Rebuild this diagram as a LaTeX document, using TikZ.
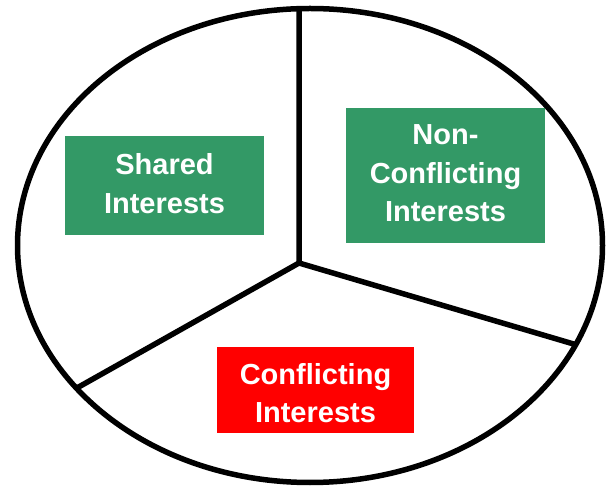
\documentclass[tikz,border=0pt]{standalone}
\usepackage{fontspec}
\setmainfont{Liberation Sans}
\definecolor{boxgreen}{RGB}{51,153,102}
\definecolor{boxred}{RGB}{255,0,0}
\begin{document}
\begin{tikzpicture}[x=1pt,y=-1pt,
  divline/.style={line width=5.5pt},
  labelbox/.style={inner sep=0pt, align=center, text=white,
    font=\fontsize{29}{38.5}\selectfont\bfseries},
  greenbox/.style={labelbox, fill=boxgreen},
  redbox/.style={labelbox, fill=boxred}]
\useasboundingbox (0,0) rectangle (611,486);
\draw[divline] (310,245.5) ellipse [x radius=292.5pt, y radius=237pt];
\coordinate (c) at (299,263);
\coordinate (t) at (299,8.7);
\coordinate (r) at (577,345);
\coordinate (l) at (76,388.5);
\draw[divline] (t) -- (c) -- (r);
\draw[divline] (c) -- (l);
\node[greenbox, minimum width=199pt, minimum height=99pt] (shared) at (164.5,185.5) {};
\node[labelbox] (sharedtext) at (164.5,183.5) {Shared\\Interests};
\node[greenbox, minimum width=199pt, minimum height=135pt] (nonconf) at (445.5,175.5) {};
\node[labelbox] (nonconftext) at (445.5,173.5) {Non-\\Conflicting\\Interests};
\node[redbox, minimum width=197pt, minimum height=86pt] (conf) at (315.5,390) {};
\node[labelbox] (conftext) at (315.5,393) {Conflicting\\Interests};
\end{tikzpicture}
\end{document}
